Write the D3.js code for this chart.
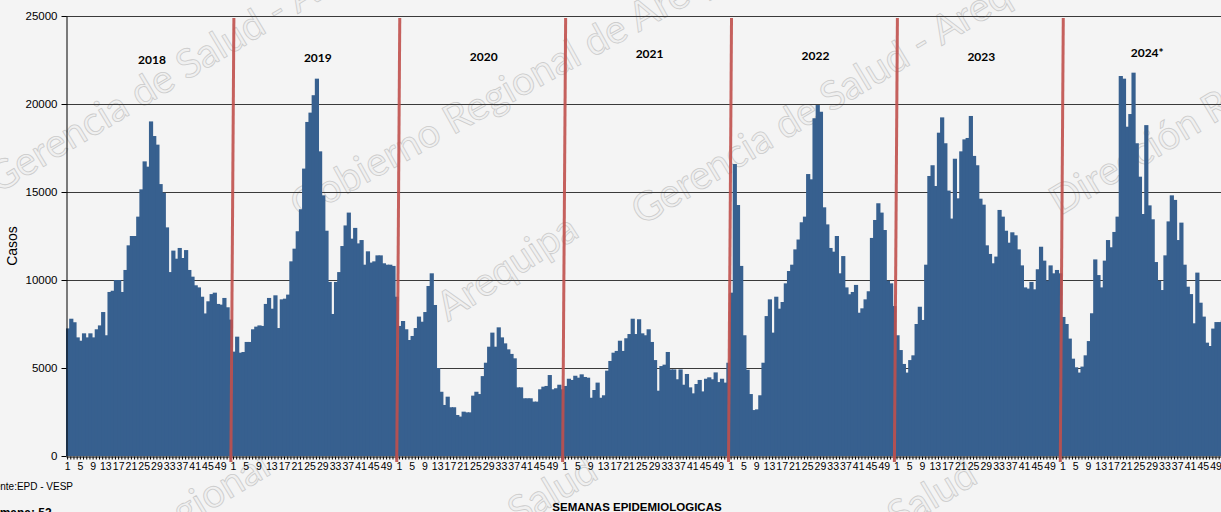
<!DOCTYPE html>
<html lang="es">
<head>
<meta charset="UTF-8">
<title>Casos por semana epidemiológica 2018 - 2024</title>
<script src="https://cdn.jsdelivr.net/npm/d3@7/dist/d3.min.js"></script>
<style>
    body { margin: 0; background: #f4f4f4; }
    svg { display: block; }
</style>
</head>
<body>
<script>

    // datos (casos por semana epidemiologica)
    let years = ['2018', '2019', '2020', '2021', '2022', '2023', '2024*'];
    let weekTicks = [1, 5, 9, 13, 17, 21, 25, 29, 33, 37, 41, 45, 49];
    let yTicks = [0, 5000, 10000, 15000, 20000, 25000];

    let cases2018 = [7250, 7800, 7600, 6740, 6550, 6970, 6740, 6970, 6740, 7200, 7420, 8180, 6860,
        9320, 9390, 10000, 10000, 9320, 10570, 11970, 12500, 12500, 13600, 15150, 16740, 16440,
        19010, 18180, 17690, 15450, 14960, 12990, 10450, 11670, 11210, 11820, 11250, 11700, 10570,
        10190, 9700, 9580, 9050, 8100, 8790, 9200, 9280, 8640, 8600, 8980, 8450, 7750];
    let cases2019 = [5930, 6780, 5870, 5910, 6480, 6480, 7200, 7350, 7420, 7390, 8640, 8980, 8370,
        9130, 7270, 8900, 8940, 9170, 11060, 11780, 12770, 14020, 16330, 18980, 19510, 20500,
        21440, 17310, 14810, 12800, 9890, 8070, 9890, 10450, 11930, 13100, 13830, 12350, 12960,
        12080, 12270, 10870, 11630, 10990, 11060, 11400, 11400, 10950, 10870, 10870, 10800, 9050];
    let cases2020 = [7390, 7670, 7200, 6590, 6820, 7270, 7920, 7630, 8180, 9660, 10380, 8580, 5000,
        3650, 2900, 3370, 2770, 2770, 2330, 2240, 2520, 2480, 2480, 3430, 3650, 3520,
        4540, 5300, 6210, 7010, 6210, 7310, 6740, 6400, 6060, 5800, 5550, 3900, 3900,
        3280, 3280, 3280, 3090, 3090, 3790, 3940, 3980, 4600, 3790, 3850, 4050, 3790];
    let cases2021 = [3980, 4390, 4320, 4560, 4450, 4640, 4490, 4450, 3310, 3750, 4170, 3310, 3450,
        4850, 5400, 5870, 5970, 6550, 5970, 6690, 6930, 7800, 6930, 7770, 6970, 6860,
        7200, 6480, 5450, 3710, 5110, 5190, 5910, 4920, 4920, 4360, 4920, 4050, 4660,
        3900, 3560, 4090, 4320, 3670, 4390, 4470, 4360, 4750, 4200, 4390, 4170, 5300];
    let cases2022 = [9280, 16590, 14260, 10800, 6860, 4900, 3520, 2610, 2650, 3450, 5300, 7950, 8900,
        7010, 9050, 8370, 8750, 9810, 10510, 10870, 11740, 12300, 13280, 13600, 16020, 15720,
        19190, 19940, 19560, 14130, 13160, 11820, 11610, 12500, 10380, 11360, 9580, 9190, 9320,
        9720, 8140, 8390, 8900, 9360, 12390, 13410, 14360, 13830, 12840, 9960, 9810, 8520];
    let cases2023 = [6860, 6020, 5230, 4740, 5450, 5720, 7500, 8480, 7730, 10870, 15910, 16520, 15340,
        18370, 19240, 17770, 15080, 13490, 16890, 14640, 17310, 17990, 18070, 19320, 17050, 16520,
        14620, 14280, 11970, 11480, 10950, 11330, 13980, 13600, 12800, 12120, 12710, 12540, 11740,
        10830, 9580, 9510, 9890, 9470, 10610, 11890, 11100, 9960, 10830, 10380, 10570, 10380];
    let cases2024 = [7900, 7500, 6670, 5530, 5040, 4740, 5080, 5720, 6530, 8110, 11170, 10280, 9580,
        11100, 12270, 11860, 12730, 13600, 21590, 21440, 18710, 19430, 21780, 17770, 15870, 13750,
        18800, 14240, 13450, 11020, 9960, 9430, 11400, 13330, 14810, 14550, 12270, 13260, 10870,
        9620, 9200, 7540, 10420, 8710, 7920, 6440, 6250, 7240, 7610, 7610, 7700, 7600];

    let series = [cases2018, cases2019, cases2020, cases2021, cases2022, cases2023, cases2024];

    // tabla plana: una fila por semana
    let data = [];
    years.forEach((yr, k) => {
        series[k].forEach((v, wk) => data.push({ year: yr, k: k, week: wk + 1, value: v, idx: data.length }));
    });

    let width = 1221, height = 512;
    let left = 66, base = 456, plotTop = 16, step = 3.19;

    let svg = d3.select('body')
        .append('svg')
        .attr('width', width)
        .attr('height', height)
        .style('font-family', '"Liberation Sans", Arial, sans-serif');

    svg.append('rect')
        .attr('width', width)
        .attr('height', height)
        .attr('fill', '#f4f4f4');

    let x = d3.scaleBand()
        .domain(data.map(d => d.idx))
        .range([left, left + data.length * step])
        .padding(0);

    let y = d3.scaleLinear()
        .domain([0, 25000])
        .range([base, plotTop]);

    // marca de agua (decorativa, letras huecas)
    let marks = [
        { t: 'Gerencia de Salud - Arequipa', x: -2, y: 194, a: -31 },
        { t: 'Gobierno Regional de Arequipa', x: 300, y: 220, a: -29 },
        { t: 'Gerencia de Salud - Arequipa', x: 642, y: 226, a: -31 },
        { t: 'Dirección Regional', x: 1060, y: 216, a: -31 },
        { t: 'Arequipa', x: 448, y: 322, a: -33 },
        { t: 'Gobierno Regional', x: -5, y: 640, a: -31 },
        { t: 'Gerencia de Salud', x: 330, y: 640, a: -31 },
        { t: 'Dirección de Salud', x: 700, y: 650, a: -31 }
    ];
    svg.append('g')
        .selectAll('text')
        .data(marks)
        .enter()
        .append('text')
        .attr('transform', d => 'translate(' + d.x + ',' + d.y + ') rotate(' + d.a + ')')
        .attr('font-family', 'Lato, "DejaVu Sans", sans-serif')
        .attr('font-size', 40)
        .attr('fill', '#f0f0f0')
        .attr('stroke', '#cbcbcb')
        .attr('stroke-width', 0.8)
        .text(d => d.t);

    // lineas de division horizontales
    svg.append('g')
        .selectAll('line')
        .data(yTicks.filter(v => v > 0))
        .enter()
        .append('line')
        .attr('x1', left)
        .attr('x2', width)
        .attr('y1', d => Math.round(y(d)) + 0.5)
        .attr('y2', d => Math.round(y(d)) + 0.5)
        .attr('stroke', '#3a3a3a')
        .attr('stroke-width', 1);

    // barras
    svg.append('g')
        .selectAll('rect')
        .data(data)
        .enter()
        .append('rect')
        .attr('x', d => x(d.idx))
        .attr('width', x.bandwidth() + 1)
        .attr('y', d => y(d.value))
        .attr('height', d => base - y(d.value))
        .attr('fill', '#37608f');

    // eje Y
    let yAxis = d3.axisLeft(y)
        .tickValues(yTicks)
        .tickFormat(d3.format('d'))
        .tickSize(5)
        .tickSizeOuter(0)
        .tickPadding(4);

    let gy = svg.append('g')
        .attr('transform', 'translate(' + (left + 0.5) + ',0)')
        .call(yAxis);
    gy.selectAll('text').attr('font-size', 11.5).attr('fill', '#000');
    gy.selectAll('line, path').attr('stroke', '#000');

    // eje X: una marca por semana, etiqueta cada 4 semanas
    let xAxis = d3.axisBottom(x)
        .tickFormat(i => weekTicks.includes(data[i].week) ? data[i].week : '')
        .tickSize(3)
        .tickSizeOuter(0)
        .tickPadding(3);

    let gx = svg.append('g')
        .attr('transform', 'translate(0,' + (base + 0.5) + ')')
        .call(xAxis);
    gx.selectAll('text').attr('font-size', 10.5).attr('fill', '#000');
    gx.selectAll('line, path').attr('stroke', '#000');

    // lineas rojas entre anios
    let starts = data.filter(d => d.week === 1 && d.k > 0);
    svg.append('g')
        .selectAll('line')
        .data(starts)
        .enter()
        .append('line')
        .attr('x1', d => x(d.idx) + 2)
        .attr('x2', d => x(d.idx) - 1)
        .attr('y1', plotTop + 2)
        .attr('y2', base + 6)
        .attr('stroke', '#c0504d')
        .attr('stroke-opacity', 0.9)
        .attr('stroke-width', 3);

    // etiquetas de anio
    let labelY = [64, 62, 61, 58, 60, 61, 57];
    svg.append('g')
        .selectAll('text')
        .data(years)
        .enter()
        .append('text')
        .attr('x', (d, k) => x(k * 52 + 26) + 3)
        .attr('y', (d, k) => labelY[k])
        .attr('text-anchor', 'middle')
        .attr('font-family', 'Lato, "Open Sans", sans-serif')
        .attr('font-weight', 'bold')
        .attr('font-size', 12)
        .attr('fill', '#000')
        .text(d => d);

    // titulos
    svg.append('text')
        .attr('transform', 'translate(17,' + ((plotTop + base) / 2 + 10) + ') rotate(-90)')
        .attr('text-anchor', 'middle')
        .attr('font-size', 14)
        .text('Casos');

    svg.append('text')
        .attr('x', 637)
        .attr('y', 511)
        .attr('text-anchor', 'middle')
        .attr('font-weight', 'bold')
        .attr('font-size', 11.5)
        .text('SEMANAS  EPIDEMIOLOGICAS');

    svg.append('text')
        .attr('x', -17)
        .attr('y', 490)
        .attr('font-size', 10)
        .text('Fuente:EPD - VESP');

    svg.append('text')
        .attr('x', -15)
        .attr('y', 517)
        .attr('font-weight', 'bold')
        .attr('font-size', 12)
        .text('Semana: 52');

</script>
</body>
</html>
